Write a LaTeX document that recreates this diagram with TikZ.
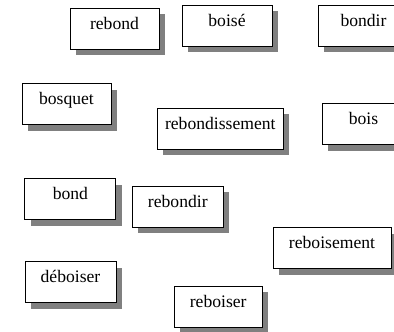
\documentclass[tikz,border=0pt]{standalone}
\usepackage{fontspec}
\setmainfont{Liberation Serif}
\usetikzlibrary{shadows}
\begin{document}
\begin{tikzpicture}[x=1pt,y=-1pt,
  wordbox/.style={draw=black, line width=0.9pt, fill=white, inner xsep=0pt, inner ysep=0pt,
    minimum width=90pt, text height=21pt, text depth=20pt,
    font=\fontsize{17.6}{20}\selectfont,
    drop shadow={shadow xshift=6pt, shadow yshift=-6pt, fill=black!50, opacity=1}}]
\useasboundingbox (0,0) rectangle (394,332);

\node[wordbox, minimum width=89pt] (rebond) at (114.5,28.8) {rebond};
\node[wordbox] (boise) at (227,25.5) {boisé};
\node[wordbox, minimum width=91pt] (bondir) at (363.5,25.5) {bondir};

\node[wordbox, minimum width=89pt] (bosquet) at (66.5,104) {bosquet};
\node[wordbox, minimum width=126pt] (rebondissement) at (220.3,128.8) {rebondissement};
\node[wordbox, minimum width=83pt] (bois) at (363.5,124.2) {bois};

\node[wordbox, minimum width=91pt] (bond) at (70.4,199.2) {bond};
\node[wordbox, minimum width=91pt] (rebondir) at (177.8,206.7) {rebondir};
\node[wordbox, minimum width=118pt] (reboisement) at (332,248) {reboisement};

\node[wordbox, minimum width=91pt] (deboiser) at (70.5,282) {déboiser};
\node[wordbox, minimum width=88pt] (reboiser) at (218.2,306.5) {reboiser};
\end{tikzpicture}
\end{document}
